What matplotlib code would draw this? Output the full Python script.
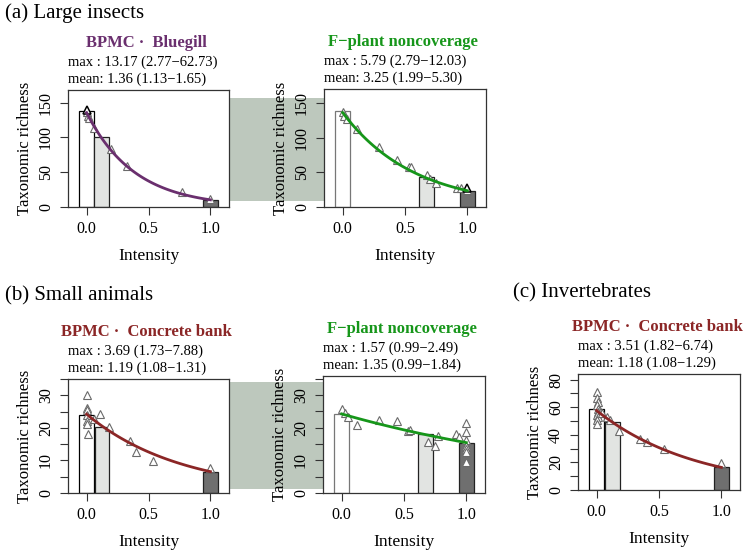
import numpy as np
import matplotlib.pyplot as plt
from matplotlib.patches import Rectangle

plt.rcParams['font.family'] = ['Liberation Serif', 'DejaVu Serif']

W, H = 745, 552

# ---------------- data ----------------
bar_fills = ['white', '#e2e4e2', '#6f6f6f']

# (a) Large insects : BPMC x Bluegill
a1_bar_x = [0.0, 0.12, 1.0]
a1_bar_h = [138, 101, 10.5]
a1_pt_x = [0.0, 0.01, 0.02, 0.06, 0.20, 0.33, 0.77, 1.0]
a1_pt_y = [137, 131, 128, 113, 84, 59, 22, 11]
a1_hl_x = [0.0]
a1_hl_y = [140]
a1_fit = (135.5, 13.17)          # richness at intensity 0, max ratio
a1_stats = ['max : 13.17 (2.77\u221262.73)', 'mean: 1.36 (1.13\u22121.65)']

# (a) Large insects : F-plant noncoverage
a2_bar_x = [0.0, 0.67, 1.0]
a2_bar_h = [138, 43, 23.5]
a2_pt_x = [0.0, 0.01, 0.035, 0.115, 0.295, 0.435, 0.53, 0.545, 0.68, 0.70, 0.75, 0.92, 0.95, 1.0]
a2_pt_y = [137, 131, 127, 112, 86, 67.5, 58, 57, 46, 41, 35, 28, 27, 25]
a2_hl_x = [1.0]
a2_hl_y = [27.5]
a2_fit = (136.0, 5.79)
a2_stats = ['max : 5.79 (2.79\u221212.03)', 'mean: 3.25 (1.99\u22125.30)']

# (b) Small animals : BPMC x Concrete bank
b1_bar_x = [0.0, 0.125, 1.0]
b1_bar_h = [24.1, 20.4, 6.6]
b1_pt_x = [0.0, 0.0, 0.005, 0.0, 0.0, 0.0, 0.012, 0.06, 0.105, 0.18, 0.35, 0.40, 0.54, 1.0]
b1_pt_y = [30, 26.1, 25.6, 23.8, 22.2, 21.2, 18.0, 22.6, 24.2, 20.3, 16.0, 12.7, 9.7, 7.8]
b1_hl_x = []
b1_hl_y = []
b1_fit = (24.2, 3.69)
b1_stats = ['max : 3.69 (1.73\u22127.88)', 'mean: 1.19 (1.08\u22121.31)']

# (b) Small animals : F-plant noncoverage
b2_bar_x = [0.0, 0.67, 1.0]
b2_bar_h = [24.1, 18.0, 15.4]
b2_pt_x = [0.005, 0.03, 0.05, 0.125, 0.30, 0.44, 0.53, 0.55, 0.69, 0.75, 0.77, 0.92, 0.945,
           1.0, 1.0, 1.0, 1.0, 1.0, 1.0, 1.0]
b2_pt_y = [25.6, 24.6, 23.3, 20.7, 22.4, 22.0, 18.9, 19.3, 15.7, 14.5, 17.5, 18.0, 17.2,
           21.4, 18.8, 16.1, 14.5, 13.4, 12.6, 9.6]
b2_hl_x = []
b2_hl_y = []
b2_fit = (24.2, 1.57)
b2_stats = ['max : 1.57 (0.99\u22122.49)', 'mean: 1.35 (0.99\u22121.84)']

# (c) Invertebrates : BPMC x Concrete bank
c1_bar_x = [0.0, 0.125, 1.0]
c1_bar_h = [58.3, 49.4, 16.9]
c1_pt_x = [0.0, 0.0, 0.01, 0.005, 0.01, 0.01, 0.0, 0.01, 0.0, 0.005, 0.04, 0.08, 0.11, 0.18,
           0.35, 0.40, 0.54, 1.0]
c1_pt_y = [70.7, 66.5, 63.6, 61.4, 59.0, 56.6, 54.2, 52.8, 50.6, 47.9, 55.6, 53.0, 51.0, 42.4,
           37.1, 34.4, 30.0, 19.3]
c1_hl_x = []
c1_hl_y = []
c1_fit = (57.5, 3.51)
c1_stats = ['max : 3.51 (1.82\u22126.74)', 'mean: 1.18 (1.08\u22121.29)']

col_bluegill = '#6a2f6e'
col_fplant = '#16961a'
col_concrete = '#8b2626'

# panel boxes in pixels: left, top, right, bottom
rect_a1 = (68, 90, 229, 207)
rect_a2 = (324, 89, 486, 207)
rect_b1 = (68, 379, 229, 493)
rect_b2 = (323, 376, 485, 493)
rect_c1 = (578, 374, 740, 490)


def fig_xy(x, y):
    return x / W, 1 - y / H


def draw_panel(fig, rect, bar_x, bar_h, bar_edges, pt_x, pt_y, hl_x, hl_y, fit, color,
               title, stats, ylim, yticks, ylabels):
    l, t, r, b = rect
    ax = fig.add_axes([l / W, 1 - b / H, (r - l) / W, (b - t) / H])

    ax.bar(bar_x, bar_h, width=0.12, color=bar_fills, edgecolor=bar_edges,
           linewidth=0.9, zorder=1)
    ax.plot(pt_x, pt_y, ls='none', marker='^', ms=6, mfc='white', mec='#6a6a6a',
            mew=0.8, zorder=2)
    if hl_x:
        ax.plot(hl_x, hl_y, ls='none', marker='^', ms=6, mfc='white', mec='black',
                mew=1.1, zorder=2)
    xs = np.linspace(0, 1, 101)
    ax.plot(xs, fit[0] * fit[1] ** (-xs), color=color, lw=2.0, zorder=3)

    ax.set_xlim(-0.15, 1.15)
    ax.set_ylim(*ylim)
    ax.set_xticks([0, 0.5, 1.0])
    ax.set_xticklabels(['0.0', '0.5', '1.0'])
    ax.set_yticks(yticks)
    ax.set_yticklabels(ylabels, rotation=90, va='center')
    ax.tick_params(direction='out', length=6, width=0.8, color='#333333',
                   labelsize=11.5, pad=4)
    for s in ax.spines.values():
        s.set_linewidth(0.9)
        s.set_color('#333333')
    ax.set_xlabel('Intensity', fontsize=12.5, labelpad=8)
    ax.set_ylabel('Taxonomic richness', fontsize=12, labelpad=4)

    cx = (l + r) / 2 - 2
    fig.text(*fig_xy(cx, t - 47), title, color=color, fontsize=12, fontweight='bold',
             ha='center', va='center')
    fig.text(*fig_xy(l, t - 28), stats[0], fontsize=10.5, ha='left', va='center')
    fig.text(*fig_xy(l, t - 11), stats[1], fontsize=10.5, ha='left', va='center')
    return ax


fig = plt.figure(figsize=(W / 100, H / 100), dpi=100)

# shaded bands linking paired panels
band_col = '#bdc8bd'
for (x0, y0, x1, y1) in [(230, 98, 324, 201), (230, 382, 323, 489)]:
    fig.patches.append(Rectangle(fig_xy(x0, y1), (x1 - x0) / W, (y1 - y0) / H,
                                 transform=fig.transFigure, facecolor=band_col,
                                 edgecolor='none', zorder=-1))

edges_dark = ['black', '#222222', '#222222']
edges_gray = ['#777777', '#222222', '#222222']

draw_panel(fig, rect_a1, a1_bar_x, a1_bar_h, edges_dark, a1_pt_x, a1_pt_y, a1_hl_x, a1_hl_y,
           a1_fit, col_bluegill, 'BPMC \u00b7  Bluegill', a1_stats, (0, 168),
           [0, 50, 100, 150], ['0', '50', '100', '150'])
draw_panel(fig, rect_a2, a2_bar_x, a2_bar_h, edges_gray, a2_pt_x, a2_pt_y, a2_hl_x, a2_hl_y,
           a2_fit, col_fplant, 'F\u2212plant noncoverage', a2_stats, (0, 170),
           [0, 50, 100, 150], ['0', '50', '100', '150'])
draw_panel(fig, rect_b1, b1_bar_x, b1_bar_h, edges_dark, b1_pt_x, b1_pt_y, b1_hl_x, b1_hl_y,
           b1_fit, col_concrete, 'BPMC \u00b7  Concrete bank', b1_stats, (0, 35),
           [0, 5, 10, 15, 20, 25, 30, 35], ['0', '', '10', '', '20', '', '30', ''])
draw_panel(fig, rect_b2, b2_bar_x, b2_bar_h, edges_gray, b2_pt_x, b2_pt_y, b2_hl_x, b2_hl_y,
           b2_fit, col_fplant, 'F\u2212plant noncoverage', b2_stats, (0, 35.8),
           [0, 5, 10, 15, 20, 25, 30, 35], ['0', '', '10', '', '20', '', '30', ''])
draw_panel(fig, rect_c1, c1_bar_x, c1_bar_h, edges_dark, c1_pt_x, c1_pt_y, c1_hl_x, c1_hl_y,
           c1_fit, col_concrete, 'BPMC \u00b7  Concrete bank', c1_stats, (0, 84),
           [0, 10, 20, 30, 40, 50, 60, 70, 80], ['0', '', '20', '', '40', '', '60', '', '80'])

fig.text(*fig_xy(5, 13), '(a) Large insects', fontsize=15, ha='left', va='center')
fig.text(*fig_xy(5, 296), '(b) Small animals', fontsize=15, ha='left', va='center')
fig.text(*fig_xy(513, 293), '(c) Invertebrates', fontsize=15, ha='left', va='center')

fig.savefig('out.png', dpi=100)
